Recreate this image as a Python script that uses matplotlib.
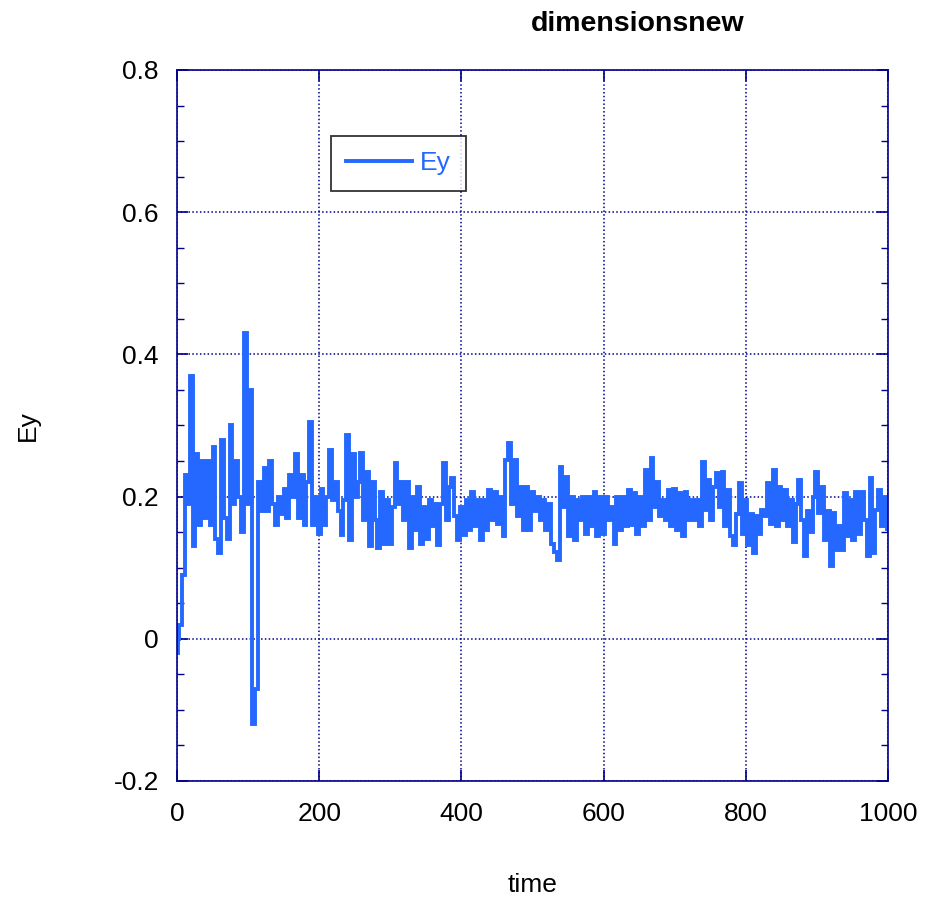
import matplotlib

matplotlib.use("Agg")
import matplotlib.pyplot as plt
import numpy as np
from matplotlib.ticker import MultipleLocator

plt.rcParams["font.family"] = ["Liberation Sans", "DejaVu Sans"]

# start-up transient, sampled a bit finer
time_early = [0, 1, 2, 4, 6, 8, 10]
ey_early = [0.01, -0.02, 0.0, 0.02, 0.02, 0.09, 0.09]

# t = 12, 16, ..., 1000 (10 values per row)
time_main = np.arange(12, 1001, 4)
ey_main = [
    0.23, 0.19, 0.37, 0.13, 0.26, 0.16, 0.25, 0.17, 0.25, 0.16,        # 12
    0.27, 0.14, 0.12, 0.28, 0.17, 0.14, 0.30, 0.19, 0.25, 0.20,        # 52
    0.15, 0.43, 0.19, 0.35, -0.12, -0.07, 0.22, 0.18, 0.24, 0.18,      # 92
    0.25, 0.19, 0.16, 0.20, 0.175, 0.21, 0.17, 0.23, 0.20, 0.26,       # 132
    0.17, 0.23, 0.16, 0.22, 0.305, 0.16, 0.20, 0.148, 0.21, 0.16,      # 172
    0.20, 0.266, 0.195, 0.22, 0.18, 0.146, 0.195, 0.287, 0.139, 0.26,  # 212
    0.20, 0.22, 0.261, 0.167, 0.235, 0.13, 0.22, 0.167, 0.127, 0.207,  # 252
    0.134, 0.195, 0.134, 0.186, 0.247, 0.19, 0.22, 0.167, 0.22, 0.127, # 292
    0.20, 0.153, 0.214, 0.134, 0.186, 0.14, 0.195, 0.158, 0.19, 0.132, # 332
    0.19, 0.247, 0.167, 0.214, 0.226, 0.172, 0.139, 0.186, 0.146, 0.195,  # 372
    0.153, 0.207, 0.158, 0.195, 0.139, 0.195, 0.153, 0.209, 0.167, 0.207,  # 412
    0.162, 0.20, 0.144, 0.251, 0.276, 0.19, 0.251, 0.172, 0.214, 0.153,    # 452
    0.214, 0.153, 0.207, 0.18, 0.20, 0.167, 0.195, 0.153, 0.19, 0.134,     # 492
    0.122, 0.111, 0.242, 0.186, 0.228, 0.144, 0.20, 0.139, 0.195, 0.167,   # 532
    0.20, 0.148, 0.20, 0.158, 0.207, 0.144, 0.20, 0.148, 0.20, 0.167,      # 572
    0.186, 0.134, 0.20, 0.153, 0.20, 0.158, 0.209, 0.16, 0.205, 0.148,     # 612
    0.20, 0.158, 0.237, 0.167, 0.254, 0.186, 0.221, 0.172, 0.195, 0.167,   # 652
    0.209, 0.158, 0.211, 0.153, 0.205, 0.144, 0.207, 0.167, 0.195, 0.167,  # 692
    0.195, 0.158, 0.249, 0.181, 0.223, 0.167, 0.214, 0.233, 0.186, 0.235,  # 732
    0.158, 0.209, 0.144, 0.132, 0.176, 0.219, 0.148, 0.195, 0.132, 0.176,  # 772
    0.12, 0.172, 0.148, 0.181, 0.172, 0.219, 0.162, 0.237, 0.158, 0.214,   # 812
    0.167, 0.209, 0.158, 0.195, 0.136, 0.19, 0.223, 0.167, 0.116, 0.18,    # 852
    0.15, 0.20, 0.235, 0.177, 0.214, 0.139, 0.18, 0.102, 0.177, 0.125,     # 892
    0.158, 0.125, 0.205, 0.144, 0.195, 0.139, 0.207, 0.148, 0.207, 0.167,  # 932
    0.116, 0.226, 0.12, 0.181, 0.209, 0.158, 0.20, 0.155,                  # 972
]

time = np.concatenate([time_early, time_main])
ey = np.concatenate([ey_early, ey_main])

x_ticks = [0, 200, 400, 600, 800, 1000]
y_ticks = [-0.2, 0, 0.2, 0.4, 0.6, 0.8]
y_tick_labels = ["-0.2", "0", "0.2", "0.4", "0.6", "0.8"]

line_color = "#2468ff"
frame_color = "#00008b"

fig = plt.figure(figsize=(9.28, 8.98), dpi=100)
ax = fig.add_axes([0.1907, 0.1303, 0.7662, 0.7918])

ax.plot(time, ey, color=line_color, lw=2.8, drawstyle="steps-mid",
        solid_joinstyle="miter", label="Ey")

ax.set_xlim(0, 1000)
ax.set_ylim(-0.2, 0.8)
ax.set_xticks(x_ticks)
ax.set_xticklabels([str(v) for v in x_ticks])
ax.set_yticks(y_ticks)
ax.set_yticklabels(y_tick_labels)
ax.yaxis.set_minor_locator(MultipleLocator(0.05))

ax.grid(True, which="major", color=frame_color, linestyle=(0, (1, 1.5)), lw=1.1)
for s in ax.spines.values():
    s.set_color(frame_color)
    s.set_linewidth(1.2)
ax.tick_params(which="both", direction="in", top=True, right=True,
               color=frame_color, labelsize=19)
ax.tick_params(axis="x", pad=15)
ax.tick_params(axis="y", pad=13)
ax.tick_params(which="major", length=8, width=1.2)
ax.tick_params(which="minor", length=5, width=1.0)

ax.set_xlabel("time", fontsize=19, labelpad=34)
ax.set_ylabel("Ey", fontsize=19, labelpad=53)

fig.text(638 / 928, 1 - 24 / 898, "dimensionsnew", ha="center", va="center",
         fontsize=20.5, fontweight="bold")

leg = ax.legend(loc="upper left", bbox_to_anchor=(0.2166, 0.907), fontsize=19,
                frameon=True, fancybox=False, handlelength=2.5,
                borderaxespad=0, borderpad=0.58, handletextpad=0.3,
                labelcolor=line_color)
leg.get_frame().set_edgecolor("black")
leg.get_frame().set_linewidth(1.3)

fig.savefig("out.png", dpi=100)
